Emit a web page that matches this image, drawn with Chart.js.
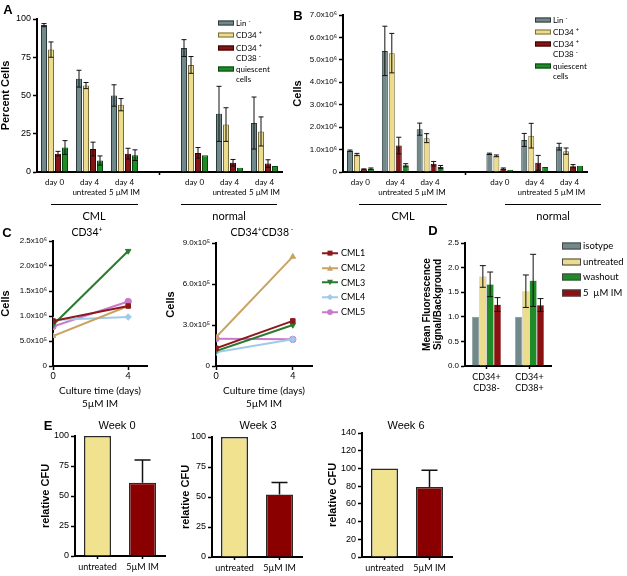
<!DOCTYPE html>
<html>
<head>
<meta charset="utf-8">
<script src="https://cdn.jsdelivr.net/npm/chart.js@4"></script>
<style>
  body { margin: 0; width: 627px; height: 576px; position: relative; background: #fff; overflow: hidden;
         font-family: 'Liberation Sans', Arial, sans-serif; color: #000; }
  canvas { position: absolute; }
  .t { position: absolute; white-space: nowrap; transform: translate(-50%, -50%); line-height: 1; }
  .lg { position: absolute; white-space: nowrap; transform: translateY(-50%); line-height: 1;
        font-family: Lato, sans-serif; font-size: 8px; }
  .lg sup { font-size: 5.5px; vertical-align: 3px; }
  .t sup { font-size: 7px; vertical-align: 4px; }
  .sw { position: absolute; box-sizing: border-box; transform: translateY(-50%); }
  .hl { position: absolute; height: 0; border-top: 1.2px solid #000; }
  .pl { position: absolute; font-weight: bold; font-size: 13px; transform: translate(-50%, -50%); line-height: 1; }
</style>
</head>
<body>
<script>
// ---- A / B : groups on the x axis (4th slot is the spacer between CML and normal)
const groupLabels = [['day 0'], ['day 4', 'untreated'], ['day 4', '5 µM IM'], '', ['day 0'], ['day 4', 'untreated'], ['day 4', '5 µM IM']];
const seriesNames = ['Lin -', 'CD34 +', 'CD34 + CD38 -', 'quiescent cells'];

// A: percent cells
const pctLin = [96, 61, 50, null, 81, 38, 32];
const pctLinErr = [1, 5.5, 7, null, 5.5, 18, 17];
const pctCD34 = [80, 56.5, 44, null, 70, 31, 26.5];
const pctCD34Err = [5, 2, 4, null, 5.5, 11, 9.5];
const pctCD38neg = [12, 15, 12, null, 12.5, 6, 5.5];
const pctCD38negErr = [1.5, 4.5, 3.5, null, 3.5, 2.2, 2.5];
const pctQuiescent = [16, 7.5, 11, null, 11, 2.8, 4];
const pctQuiescentErr = [4.5, 3, 3.5, null, 0, 0, 0];

// B: absolute cells
const cellsLin = [0.95e6, 5.4e6, 1.91e6, null, 0.81e6, 1.43e6, 1.13e6];
const cellsLinErr = [0.03e6, 1.1e6, 0.27e6, null, 0.03e6, 0.29e6, 0.15e6];
const cellsCD34 = [0.78e6, 5.3e6, 1.51e6, null, 0.72e6, 1.62e6, 0.93e6];
const cellsCD34Err = [0.05e6, 0.88e6, 0.2e6, null, 0.04e6, 0.55e6, 0.14e6];
const cellsCD38neg = [0.12e6, 1.18e6, 0.37e6, null, 0.15e6, 0.41e6, 0.26e6];
const cellsCD38negErr = [0.02e6, 0.37e6, 0.1e6, null, 0.03e6, 0.33e6, 0.07e6];
const cellsQuiescent = [0.15e6, 0.3e6, 0.22e6, null, 0.1e6, 0.22e6, 0.28e6];
const cellsQuiescentErr = [0.03e6, 0.07e6, 0.07e6, null, 0, 0, 0];

// C: culture of 5 CML samples in 5 µM IM
const cultureDays = [0, 4];
const cmlNames = ['CML1', 'CML2', 'CML3', 'CML4', 'CML5'];
const cd34Day0 = [0.9e6, 0.6e6, 0.82e6, 0.92e6, 0.79e6];
const cd34Day4 = [1.2e6, 1.2e6, 2.3e6, 0.98e6, 1.29e6];
const cd38negDay0 = [1.3e5, 2.1e5, 1.1e5, 1.0e5, 2.0e5];
const cd38negDay4 = [3.3e5, 8.0e5, 3.0e5, 1.95e5, 1.95e5];

// D: mean fluorescence
const fluorCats = [['CD34+', 'CD38-'], ['CD34+', 'CD38+']];
const fluorNames = ['isotype', 'untreated', 'washout', '5 µM IM'];
const fluorIsotype = [1, 1];
const fluorUntreated = [1.82, 1.52];
const fluorUntreatedErr = [0.22, 0.33];
const fluorWashout = [1.66, 1.74];
const fluorWashoutErr = [0.25, 0.53];
const fluorIM = [1.25, 1.24];
const fluorIMErr = [0.14, 0.13];

// E: relative CFU
const cfuCats = ['untreated', '5µM IM'];
const cfuWeek0 = [100, 61];
const cfuWeek0Err = [0, 19];
const cfuWeek3 = [100, 52];
const cfuWeek3Err = [0, 10];
const cfuWeek6 = [100, 79];
const cfuWeek6Err = [0, 19];

const barFill = ['#71898a', '#ecdd8e', '#841416', '#1f8b27'];
const barEdge = ['#2c3a3a', '#7a6c3a', '#3a0000', '#0b4512'];
const cmlColors = ['#8b1a1c', '#c9a363', '#2c7a2e', '#9fcbea', '#c978cc'];
const cmlPoints = ['rect', 'triangle', 'triangle', 'rectRot', 'circle'];
const cmlRot = [0, 0, 180, 0, 0];

Chart.defaults.font.family = "'Liberation Sans', Arial, sans-serif";
Chart.defaults.color = '#000';

// error bars drawn from the y scale of each chart
const errorBars = {
  id: 'errorBars',
  afterDatasetsDraw(chart) {
    const ctx = chart.ctx;
    const ys = chart.scales.y;
    chart.data.datasets.forEach((ds, i) => {
      if (!ds.errs) return;
      chart.getDatasetMeta(i).data.forEach((bar, j) => {
        const v = ds.data[j], e = ds.errs[j];
        if (v == null || !e) return;
        const top = ys.getPixelForValue(v + e);
        const bot = ds.upOnly ? bar.y : ys.getPixelForValue(Math.max(0, v - e));
        const w = ds.cap || 2.5;
        ctx.save();
        ctx.strokeStyle = '#111';
        ctx.lineWidth = ds.errWidth || 1;
        ctx.beginPath();
        ctx.moveTo(bar.x, top); ctx.lineTo(bar.x, bot);
        ctx.moveTo(bar.x - w, top); ctx.lineTo(bar.x + w, top);
        if (!ds.upOnly) { ctx.moveTo(bar.x - w, bot); ctx.lineTo(bar.x + w, bot); }
        ctx.stroke();
        ctx.restore();
      });
    });
  }
};

function canvasAt(left, top, w, h) {
  const c = document.createElement('canvas');
  c.width = w; c.height = h;
  c.style.left = left + 'px'; c.style.top = top + 'px';
  c.style.width = w + 'px'; c.style.height = h + 'px';
  document.body.appendChild(c);
  return c.getContext('2d');
}

function yLinear(p) {
  const y = {
    type: 'linear', min: 0, max: p.max,
    border: { color: '#000', width: 2 },
    grid: { drawOnChartArea: false, tickLength: 4, tickWidth: 1.5, tickColor: '#000' },
    ticks: { stepSize: p.step, padding: 2, font: { size: p.fs || 9 }, callback: p.fmt || (v => v) },
    afterFit: s => { s.width = p.w; }
  };
  if (p.title) y.title = { display: true, text: p.title, font: { size: p.tfs || 11, weight: 'bold', lineHeight: 1.05 }, padding: { top: 0, bottom: 2 } };
  return y;
}

function xCategory(p) {
  return {
    type: 'category',
    border: { color: '#000', width: 2 },
    grid: { drawOnChartArea: false, offset: false, tickLength: 3, tickWidth: 1.5, tickColor: p.tickColor || '#000' },
    ticks: { padding: 2, autoSkip: false, maxRotation: 0, font: { family: 'Lato', size: p.fs || 8, lineHeight: 1.25 } },
    afterFit: s => { s.height = p.h; }
  };
}

function baseOptions(p) {
  return {
    responsive: false, animation: false, devicePixelRatio: 1,
    layout: { padding: { top: p.top, right: p.right, left: 0, bottom: 0 } },
    plugins: { legend: { display: false }, tooltip: { enabled: false } },
    scales: { x: p.x, y: p.y }
  };
}

function cellDatasets(values, errs) {
  return values.map((v, k) => ({
    label: seriesNames[k], data: v, errs: errs[k],
    backgroundColor: barFill[k], borderColor: barEdge[k], borderWidth: 1,
    categoryPercentage: 0.8, barPercentage: 0.86, cap: 2.5
  }));
}

const gapTick = c => (c.index === 3 ? '#000' : 'rgba(0,0,0,0)');

// ---------- A ----------
new Chart(canvasAt(0, 0, 290, 200), {
  type: 'bar',
  data: { labels: groupLabels, datasets: cellDatasets([pctLin, pctCD34, pctCD38neg, pctQuiescent], [pctLinErr, pctCD34Err, pctCD38negErr, pctQuiescentErr]) },
  options: baseOptions({
    top: 19, right: 8,
    x: xCategory({ h: 28, tickColor: gapTick }),
    y: yLinear({ max: 100, step: 25, w: 37, title: 'Percent Cells' })
  }),
  plugins: [errorBars]
});

// ---------- B ----------
new Chart(canvasAt(292, 0, 335, 200), {
  type: 'bar',
  data: { labels: groupLabels, datasets: cellDatasets([cellsLin, cellsCD34, cellsCD38neg, cellsQuiescent], [cellsLinErr, cellsCD34Err, cellsCD38negErr, cellsQuiescentErr]) },
  options: baseOptions({
    top: 15, right: 40,
    x: xCategory({ h: 28, tickColor: gapTick }),
    y: yLinear({ max: 7e6, step: 1e6, w: 51, fs: 8, title: 'Cells', fmt: v => (v === 0 ? '0' : (v / 1e6).toFixed(1) + 'x10⁶') })
  }),
  plugins: [errorBars]
});

// ---------- C ----------
function cmlDatasets(start, end) {
  return cmlNames.map((n, i) => ({
    label: n,
    data: [{ x: cultureDays[0], y: start[i] }, { x: cultureDays[1], y: end[i] }],
    borderColor: cmlColors[i], backgroundColor: cmlColors[i], borderWidth: 2,
    pointStyle: cmlPoints[i], pointRotation: cmlRot[i], pointRadius: 3.2, pointBorderWidth: 1
  }));
}
function xDays(h) {
  return {
    type: 'linear', min: 0, max: 5,
    afterBuildTicks: s => { s.ticks = cultureDays.map(v => ({ value: v })); },
    border: { color: '#000', width: 2 },
    grid: { drawOnChartArea: false, tickLength: 4, tickWidth: 1.5, tickColor: '#000' },
    ticks: { padding: 1, font: { family: 'Lato', size: 9 } },
    title: { display: true, text: ['Culture time (days)', '5µM IM'], font: { family: 'Lato', size: 10, lineHeight: 1.25 }, padding: { top: 2, bottom: 0 } },
    afterFit: s => { s.height = h; }
  };
}
new Chart(canvasAt(0, 225, 160, 185), {
  type: 'line',
  data: { datasets: cmlDatasets(cd34Day0, cd34Day4) },
  options: baseOptions({
    top: 16, right: 13,
    x: xDays(44),
    y: yLinear({ max: 2.5e6, step: 5e5, w: 53, fs: 8, title: 'Cells',
      fmt: v => (v === 0 ? '0' : v >= 1e6 ? (v / 1e6).toFixed(1) + 'x10⁶' : (v / 1e5).toFixed(1) + 'x10⁵') })
  })
});
new Chart(canvasAt(165, 225, 155, 185), {
  type: 'line',
  data: { datasets: cmlDatasets(cd38negDay0, cd38negDay4) },
  options: baseOptions({
    top: 18, right: 8,
    x: xDays(44),
    y: yLinear({ max: 9e5, step: 3e5, w: 51, fs: 8, title: 'Cells', fmt: v => (v === 0 ? '0' : (v / 1e5).toFixed(1) + 'x10⁵') })
  })
});

// ---------- D ----------
const fluorColors = ['#71898a', '#ecdd8e', '#1f8b27', '#8b1012'];
const fluorValues = [fluorIsotype, fluorUntreated, fluorWashout, fluorIM];
const fluorErrs = [null, fluorUntreatedErr, fluorWashoutErr, fluorIMErr];
new Chart(canvasAt(422, 225, 135, 180), {
  type: 'bar',
  data: {
    labels: fluorCats,
    datasets: fluorValues.map((v, k) => ({
      label: fluorNames[k], data: v, errs: fluorErrs[k], cap: 3,
      backgroundColor: fluorColors[k], borderColor: 'rgba(0,0,0,0.35)', borderWidth: 0.5,
      categoryPercentage: 0.68, barPercentage: 1
    }))
  },
  options: baseOptions({
    top: 18, right: 6,
    x: xCategory({ h: 39, fs: 9 }),
    y: yLinear({ max: 2.5, step: 0.5, w: 43, fs: 8, tfs: 10, title: ['Mean Fluorescence', 'Signal/Background'], fmt: v => v.toFixed(1) })
  }),
  plugins: [errorBars]
});

// ---------- E ----------
function cfuChart(left, yw, top, right, xh, values, errs, max, step) {
  new Chart(canvasAt(left, 410, yw + 90 + right, 166), {
    type: 'bar',
    data: {
      labels: cfuCats,
      datasets: [{
        data: values, errs: errs, upOnly: true, cap: 8, errWidth: 1.5,
        backgroundColor: ['#f0e28e', '#8a0000'], borderColor: '#2a2a2a', borderWidth: 1.5,
        categoryPercentage: 1, barPercentage: 0.6
      }]
    },
    options: baseOptions({
      top: top, right: right,
      x: xCategory({ h: xh, fs: 9 }),
      y: yLinear({ max: max, step: step, w: yw, fs: 9, title: 'relative CFU' })
    }),
    plugins: [errorBars]
  });
}
cfuChart(40, 35, 26, 5, 20, cfuWeek0, cfuWeek0Err, 100, 25);
cfuChart(180, 32, 27, 5, 19, cfuWeek3, cfuWeek3Err, 100, 25);
cfuChart(327, 35, 23, 5, 19, cfuWeek6, cfuWeek6Err, 140, 20);

// ---------- text, legends, group lines ----------
function text(html, x, y, css) {
  const d = document.createElement('div');
  d.className = 't'; d.innerHTML = html;
  d.style.left = x + 'px'; d.style.top = y + 'px';
  if (css) d.style.cssText += css;
  document.body.appendChild(d);
}
function panelLetter(ch, x, y) {
  const d = document.createElement('div');
  d.className = 'pl'; d.textContent = ch;
  d.style.left = x + 'px'; d.style.top = y + 'px';
  document.body.appendChild(d);
}
function hline(x1, x2, y) {
  const d = document.createElement('div');
  d.className = 'hl';
  d.style.left = x1 + 'px'; d.style.top = y + 'px'; d.style.width = (x2 - x1) + 'px';
  document.body.appendChild(d);
}
function legendText(html, x, y, size) {
  const d = document.createElement('div');
  d.className = 'lg'; d.innerHTML = html;
  d.style.left = x + 'px'; d.style.top = y + 'px';
  if (size) d.style.fontSize = size + 'px';
  document.body.appendChild(d);
}
function swatch(x, y, w, h, fill, edge) {
  const d = document.createElement('div');
  d.className = 'sw';
  d.style.cssText += `left:${x}px;top:${y}px;width:${w}px;height:${h}px;background:${fill};border:1px solid ${edge};`;
  document.body.appendChild(d);
}

const cellLegendLines = [['Lin <sup>-</sup>'], ['CD34 <sup>+</sup>'], ['CD34 <sup>+</sup>', 'CD38 <sup>-</sup>'], ['quiescent', 'cells']];
function cellLegend(x, y0, steps) {
  cellLegendLines.forEach((lines, k) => {
    const y = y0 + steps[k];
    swatch(x, y, 16, 5, barFill[k], barEdge[k]);
    lines.forEach((l, j) => legendText(l, x + 18, y + j * 9.5));
  });
}
cellLegend(218, 23, [0, 11.5, 25, 46]);
cellLegend(535, 20, [0, 12, 24, 46]);

panelLetter('A', 8, 9);
panelLetter('B', 298, 15);
panelLetter('C', 7, 232);
panelLetter('D', 433, 230);
panelLetter('E', 48, 425);

const groupCss = 'font-family:Lato,sans-serif;font-size:11px;';
hline(51, 138, 204); text('CML', 94, 215, groupCss);
hline(181, 277, 204); text('normal', 229, 215, groupCss);
hline(359, 447, 204); text('CML', 403, 215, groupCss);
hline(505, 601, 204); text('normal', 553, 215, groupCss);

const titleCss = 'font-family:Lato,sans-serif;font-size:10.5px;';
text('CD34<sup>+</sup>', 87, 232, titleCss);
text('CD34<sup>+</sup>CD38<sup> -</sup>', 262, 232, titleCss);

// C legend with line + marker icons
function markerSvg(i) {
  const c = cmlColors[i];
  let m;
  if (cmlPoints[i] === 'rect') m = `<rect x="5.5" y="1.5" width="5" height="5" fill="${c}"/>`;
  else if (cmlPoints[i] === 'circle') m = `<circle cx="8" cy="4" r="2.8" fill="${c}"/>`;
  else if (cmlPoints[i] === 'rectRot') m = `<polygon points="8,0.8 11.2,4 8,7.2 4.8,4" fill="${c}"/>`;
  else if (cmlRot[i] === 180) m = `<polygon points="5,1.5 11,1.5 8,7" fill="${c}"/>`;
  else m = `<polygon points="5,6.5 11,6.5 8,1" fill="${c}"/>`;
  return `<svg width="16" height="8" style="vertical-align:middle"><line x1="0" y1="4" x2="16" y2="4" stroke="${c}" stroke-width="2"/>${m}</svg>`;
}
cmlNames.forEach((n, i) => {
  const y = 252 + i * 14.8;
  legendText(markerSvg(i), 322, y, 9);
  legendText(n, 341, y, 9);
});

// D legend
fluorNames.forEach((n, k) => {
  const y = 246 + k * 15.6;
  swatch(562, y, 19, 7, fluorColors[k], '#444');
  legendText(n.replace('µ', '&nbsp;µ').replace('5&nbsp;', '5 '), 583, y, 9.5);
});

const weekCss = 'font-size:11px;';
text('Week 0', 117, 425, weekCss);
text('Week 3', 258, 425, weekCss);
text('Week 6', 406, 425, weekCss);
</script>
</body>
</html>
